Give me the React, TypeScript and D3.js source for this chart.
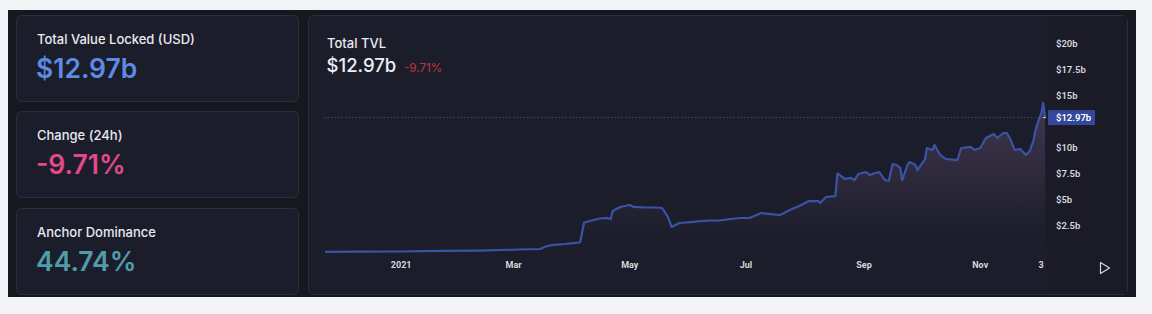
import React from 'react';
import * as d3 from 'd3';

// ---- data ----
const dates = [
  '2020-11-22', '2020-12-10', '2020-12-31', '2021-01-21', '2021-02-11', '2021-03-04',
  '2021-03-15', '2021-03-18', '2021-03-21', '2021-03-28', '2021-04-04', '2021-04-05',
  '2021-04-07', '2021-04-10', '2021-04-15', '2021-04-19', '2021-04-21', '2021-04-22',
  '2021-04-26', '2021-05-01', '2021-05-03', '2021-05-09', '2021-05-14', '2021-05-18',
  '2021-05-21', '2021-05-23', '2021-05-27', '2021-06-02', '2021-06-07', '2021-06-12',
  '2021-06-17', '2021-06-23', '2021-06-28', '2021-07-03', '2021-07-09', '2021-07-14',
  '2021-07-19', '2021-07-24', '2021-07-29', '2021-08-03', '2021-08-08', '2021-08-09',
  '2021-08-12', '2021-08-17', '2021-08-18', '2021-08-22', '2021-08-25', '2021-08-27',
  '2021-08-29', '2021-09-02', '2021-09-04', '2021-09-07', '2021-09-09', '2021-09-12',
  '2021-09-14', '2021-09-16', '2021-09-18', '2021-09-20', '2021-09-21', '2021-09-24',
  '2021-09-25', '2021-09-28', '2021-09-29', '2021-10-03', '2021-10-04', '2021-10-07',
  '2021-10-08', '2021-10-11', '2021-10-14', '2021-10-19', '2021-10-20', '2021-10-22',
  '2021-10-27', '2021-10-29', '2021-11-01', '2021-11-04', '2021-11-06', '2021-11-08',
  '2021-11-10', '2021-11-13', '2021-11-15', '2021-11-17', '2021-11-19', '2021-11-22',
  '2021-11-25', '2021-11-27', '2021-11-29', '2021-11-30', '2021-12-02', '2021-12-03',
  '2021-12-04', '2021-12-05',
];
const tvl = [
  0.02, 0.04, 0.05, 0.1, 0.14, 0.24,
  0.29, 0.53, 0.67, 0.77, 0.91, 0.96,
  2.84, 2.98, 3.22, 3.27, 3.17, 3.94,
  4.33, 4.52, 4.33, 4.28, 4.28, 4.23,
  3.37, 2.4, 2.79, 2.88, 2.98, 3.03,
  3.03, 3.17, 3.27, 3.27, 3.75, 3.65,
  3.56, 4.04, 4.42, 4.9, 4.9, 4.71,
  5.29, 5.38, 7.55, 7.02, 7.12, 6.92,
  7.5, 7.69, 7.4, 7.6, 7.69, 6.92,
  6.83, 8.46, 8.37, 8.08, 6.92, 8.46,
  8.65, 8.37, 7.88, 8.94, 10.0, 9.81,
  10.29, 9.33, 8.94, 8.85, 8.85, 10.0,
  10.1, 9.81, 10.0, 10.96, 11.15, 11.35,
  10.96, 11.44, 11.44, 10.77, 9.81, 9.9,
  9.33, 9.71, 10.77, 11.73, 12.88, 13.27,
  14.33, 12.97,
];
const xTickDates = ['2021-01-01', '2021-03-01', '2021-05-01', '2021-07-01', '2021-09-01', '2021-11-01', '2021-12-03'];
const xTickLabels = ['2021', 'Mar', 'May', 'Jul', 'Sep', 'Nov', '3'];
const yTicks = [2.5, 5, 7.5, 10, 15, 17.5, 20];
const yTickLabels = ['$2.5b', '$5b', '$7.5b', '$10b', '$15b', '$17.5b', '$20b'];
const currentTvl = 12.97;
const currentLabel = '$12.97b';
const change24hLabel = '-9.71%';
const dominanceLabel = '44.74%';
const cardTitles = ['Total Value Locked (USD)', 'Change (24h)', 'Anchor Dominance'];
const cardValues = [currentLabel, change24hLabel, dominanceLabel];

const parse = (s: string) => {
  const [y, m, d] = s.split('-').map(Number);
  return new Date(y, m - 1, d);
};

export default function App() {
  const W = 1152;
  const H = 314;
  const plotLeft = 325;
  const plotRight = 1045;
  const points = dates.map((d, i) => ({ date: parse(d), v: tvl[i] }));

  const x = d3
    .scaleTime()
    .domain(d3.extent(points, (p) => p.date) as [Date, Date])
    .range([plotLeft, plotRight]);
  const y = d3.scaleLinear().domain([0, 20]).range([252, 44]);

  const line = d3
    .line<{ date: Date; v: number }>()
    .x((p) => x(p.date))
    .y((p) => y(p.v));
  const area = d3
    .area<{ date: Date; v: number }>()
    .x((p) => x(p.date))
    .y0(y(0) + 4)
    .y1((p) => y(p.v));

  const font = 'Inter, "Noto Sans", sans-serif';
  const cardColors = ['#5b8be3', '#e1498a', '#4f9dab'];
  const cardTops = [15, 111, 208];

  return (
    <svg
      width={W}
      height={H}
      style={{ position: 'absolute', left: 0, top: 0, display: 'block' }}
      fontFamily={font}
    >
      <defs>
        <linearGradient id="areaGrad" x1="0" y1="0" x2="0" y2="1">
          <stop offset="0%" stopColor="#4a4057" stopOpacity={0.8} />
          <stop offset="55%" stopColor="#332c40" stopOpacity={0.65} />
          <stop offset="100%" stopColor="#1d1e2c" stopOpacity={0.1} />
        </linearGradient>
      </defs>
      <rect x={0} y={0} width={W} height={H} fill="#f3f4f8" />
      <rect x={8} y={10} width={1128} height={287} fill="#17181f" />

      {/* left cards */}
      {cardTops.map((t, i) => (
        <g key={i}>
          <rect x={16.5} y={t + 0.5} width={282} height={86} rx={5} fill="#1b1d2b" stroke="#2c2e3d" />
          <text x={37} y={t + 29} fontSize={13} fontWeight={500} fill="#e9e9ef">
            {cardTitles[i]}
          </text>
          <text x={36} y={t + 63} fontSize={26.5} fontWeight={600} fill={cardColors[i]}>
            {cardValues[i]}
          </text>
        </g>
      ))}

      {/* chart card */}
      <rect x={308.5} y={15.5} width={819} height={279} rx={5} fill="#1b1d2b" stroke="#2c2e3d" />
      <rect x={1047} y={16} width={80} height={278} fill="#1a1b26" />

      <text x={327} y={48} fontSize={13} fontWeight={500} fill="#e9e9ef">
        Total TVL
      </text>
      <text x={326.5} y={72} fontSize={18.5} fontWeight={500} fill="#eeeef2">
        {currentLabel}
      </text>
      <text x={404} y={72} fontSize={11.5} fontWeight={500} fill="#b3303a">
        {change24hLabel}
      </text>

      <path d={area(points) || ''} fill="url(#areaGrad)" />
      <line
        x1={plotLeft - 1}
        x2={plotRight + 1}
        y1={y(currentTvl) + 0.5}
        y2={y(currentTvl) + 0.5}
        stroke="#3f4d86"
        strokeWidth={1}
        strokeDasharray="1.5 2"
      />
      <path d={line(points) || ''} fill="none" stroke="#3b53a7" strokeWidth={2.2} strokeLinejoin="round" />

      {/* y axis labels */}
      {yTicks.map((t, i) => (
        <text key={t} x={1056} y={y(t)} dy="0.35em" fontSize={9.5} fontWeight={600} fill="#d6d7de" fontFamily="Roboto, sans-serif">
          {yTickLabels[i]}
        </text>
      ))}
      <rect x={1048} y={y(currentTvl) - 7} width={47} height={15} fill="#33489a" />
      <line x1={1043} x2={1046} y1={y(currentTvl) + 0.5} y2={y(currentTvl) + 0.5} stroke="#c8cbe0" />
      <text x={1056} y={y(currentTvl) + 0.5} dy="0.35em" fontSize={9.5} fontWeight={600} fill="#ffffff" fontFamily="Roboto, sans-serif">
        {currentLabel}
      </text>

      {/* x axis labels */}
      {xTickDates.map((d, i) => (
        <text
          key={d}
          x={x(parse(d))}
          y={268}
          textAnchor="middle"
          fontSize={9}
          fontWeight={700}
          fill="#d6d7de"
          fontFamily="Roboto, sans-serif"
        >
          {xTickLabels[i]}
        </text>
      ))}

      {/* play icon */}
      <path d="M1100.5,262.5 L1109.5,268 L1100.5,273.5 Z" fill="none" stroke="#d6d7de" strokeWidth={1.2} strokeLinejoin="round" />
    </svg>
  );
}
